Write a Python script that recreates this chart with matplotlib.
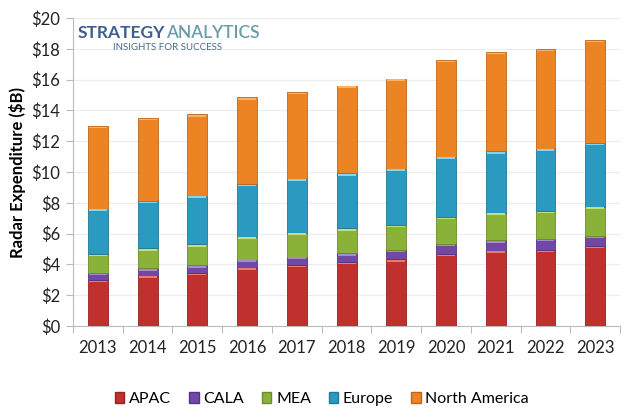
import numpy as np
import matplotlib
matplotlib.use('Agg')
import matplotlib.pyplot as plt
from matplotlib.patches import Patch

plt.rcParams['font.family'] = ['Lato', 'DejaVu Sans']

# data (segment values, $B)
years = ['2013', '2014', '2015', '2016', '2017', '2018', '2019', '2020', '2021', '2022', '2023']
apac = [3.00, 3.27, 3.46, 3.79, 3.96, 4.16, 4.33, 4.68, 4.89, 4.95, 5.19]
cala = [0.46, 0.47, 0.48, 0.52, 0.54, 0.56, 0.61, 0.66, 0.67, 0.70, 0.65]
mea = [1.22, 1.30, 1.36, 1.49, 1.56, 1.63, 1.62, 1.74, 1.80, 1.82, 1.91]
europe = [2.94, 3.08, 3.16, 3.42, 3.51, 3.57, 3.66, 3.92, 3.99, 4.05, 4.15]
north_america = [5.38, 5.38, 5.29, 5.63, 5.63, 5.69, 5.85, 6.26, 6.43, 6.48, 6.66]

regions = ['APAC', 'CALA', 'MEA', 'Europe', 'North America']
series = [apac, cala, mea, europe, north_america]
colors = ['#c0302e', '#7048a6', '#8ab238', '#2b9ac0', '#ec8424']
edges = ['#962222', '#553486', '#6b8c28', '#1f7898', '#c0651a']
highlights = ['#ec7a72', '#a78ad0', '#c4e07c', '#7fd8ee', '#fbb264']

fig = plt.figure(figsize=(6.4, 4.18), dpi=100)
ax = fig.add_axes([0.114, 0.22, 0.855, 0.737])

x = np.arange(len(years))
bottom = np.zeros(len(years))
for vals, c, e, h in zip(series, colors, edges, highlights):
    vals = np.array(vals)
    ax.bar(x, vals, width=0.4, bottom=bottom, color=c, edgecolor=e, linewidth=0.6, zorder=3)
    # light strip at the top of each segment
    ax.bar(x, np.full(len(years), 0.1), width=0.36, bottom=bottom + vals - 0.15,
           color=h, linewidth=0, zorder=4)
    bottom += vals

ax.set_xlim(-0.5, len(years) - 0.5)
ax.set_ylim(0, 20)
ax.set_yticks(np.arange(0, 21, 2))
ax.set_yticklabels([f'${v}' for v in range(0, 21, 2)])
ax.set_xticks(x)
ax.set_xticklabels(years)
ax.set_xticks(np.arange(-0.5, len(years), 1), minor=True)
ax.tick_params(axis='x', which='major', length=0, pad=10, labelsize=12)
ax.tick_params(axis='x', which='minor', length=5, color='#bbbbbb', width=0.8)
ax.tick_params(axis='y', length=5, color='#bbbbbb', width=0.8, labelsize=12, pad=4)
for lab in ax.get_xticklabels() + ax.get_yticklabels():
    lab.set_color('#222222')

ax.grid(axis='y', color='#ececec', linewidth=0.8, zorder=0)
for s in ['top', 'right']:
    ax.spines[s].set_visible(False)
for s in ['left', 'bottom']:
    ax.spines[s].set_color('#bbbbbb')
    ax.spines[s].set_linewidth(0.8)

ax.set_ylabel('Radar Expenditure ($B)', fontsize=12, fontweight='bold', labelpad=4)

# logo text
fig.text(0.122, 0.921, 'STRATEGY', fontsize=12.5, fontweight='bold', color='#3d5e8e', va='center')
fig.text(0.259, 0.921, 'ANALYTICS', fontsize=12.5, fontweight='semibold', color='#6b9cac', va='center')
fig.text(0.176, 0.886, 'INSIGHTS FOR SUCCESS', fontsize=7, color='#4a6a86', va='center')

handles = [Patch(facecolor=c, edgecolor=e) for c, e in zip(colors, edges)]
fig.legend(handles, regions, loc='center', bbox_to_anchor=(0.503, 0.045), ncol=5, frameon=False,
           fontsize=11.5, handlelength=0.6, handleheight=0.6, handletextpad=0.3, columnspacing=1.1)

fig.savefig('out.png', dpi=100)
